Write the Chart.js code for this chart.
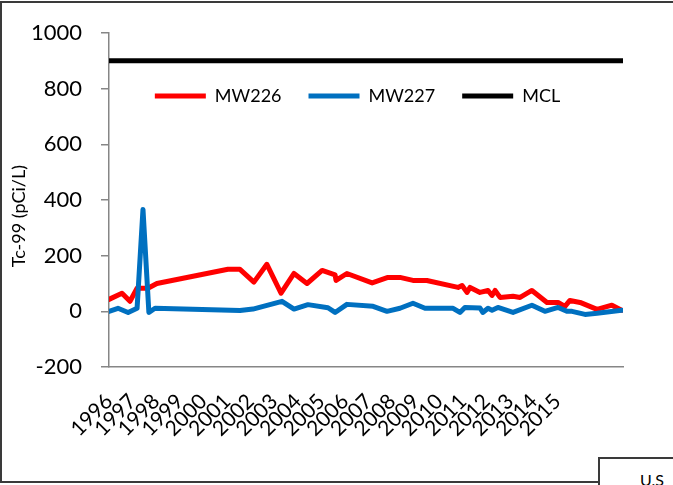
<!DOCTYPE html>
<html>
<head>
<meta charset="utf-8">
<script src="https://cdn.jsdelivr.net/npm/chart.js@4/dist/chart.umd.min.js"></script>
<style>
html,body{margin:0;padding:0;background:#fff;}
#wrap{position:relative;width:673px;height:485px;overflow:hidden;background:#fff;}
#c{position:absolute;left:0;top:0;}
#frame{position:absolute;left:0;top:1px;width:720px;height:478px;border:2px solid #3a3a3a;pointer-events:none;}
#box{position:absolute;left:598px;top:457px;width:120px;height:60px;border:2px solid #3a3a3a;background:#fff;
	font-family:Lato,sans-serif;font-size:16px;color:#000;}
#box span{position:absolute;left:40px;top:11px;}
</style>
</head>
<body>
<div id="wrap">
<canvas id="c" width="673" height="485"></canvas>
<div id="frame"></div>
<div id="box"><span>U.S</span></div>
</div>
<script>
// x positions are in axis units (tick labels 1996..2015 at unit steps), y in pCi/L
var years=['1996','1997','1998','1999','2000','2001','2002','2003','2004','2005','2006','2007','2008','2009','2010','2011','2012','2013','2014','2015'];
var mw226_x=[1996.00,1996.55,1996.89,1997.19,1997.65,1998.03,2001.04,2001.55,2002.14,2002.69,2003.29,2003.84,2004.39,2005.03,2005.58,2005.62,2006.08,2007.15,2007.82,2008.33,2008.88,2009.47,2010.79,2010.96,2011.17,2011.30,2011.72,2012.06,2012.23,2012.36,2012.57,2013.12,2013.42,2013.92,2014.56,2015.03,2015.32,2015.53,2015.96,2016.68,2017.31,2017.72];
var mw226_y=[43,65,36,83,83,100,151,151,105,169,65,136,100,147,131,111,136,102,122,122,111,111,86,93,68,86,68,75,57,75,50,54,50,75,32,32,18,39,32,7,22,4];
var mw227_x=[1996.00,1996.38,1996.81,1997.19,1997.44,1997.69,1997.95,2001.55,2002.10,2003.33,2003.84,2004.43,2005.28,2005.58,2006.08,2007.19,2007.78,2008.33,2008.88,2009.39,2010.58,2010.87,2011.08,2011.72,2011.84,2012.06,2012.23,2012.48,2013.12,2013.92,2014.47,2015.03,2015.42,2015.62,2016.17,2016.68,2017.72];
var mw227_y=[0,11,-4,11,366,-4,11,3,8,36,8,24,13,-4,25,18,0,11,29,11,11,-4,14,12,-4,11,4,14,-4,22,0,14,0,0,-11,-7,4];
var mcl_x=[1996.00,2017.78];
var mcl_y=[900,900];
var y_ticks=[-200,0,200,400,600,800,1000];

var pts=function(xs,ys){var o=[];for(let i=0;i<xs.length;i++){o.push({x:xs[i],y:ys[i]});}return o;};
var line=function(label,xs,ys,col,ord){return {label:label,data:pts(xs,ys),borderColor:col,backgroundColor:col,order:ord,
	borderWidth:5,pointRadius:0,tension:0,borderCapStyle:'round',borderJoinStyle:'round'};};

// legend sits inside the plot in the reference: move the laid-out legend box down/right
var legend_shift={id:'legend_shift',afterLayout:function(ch){var l=ch.legend;if(!l){return}
	l.top+=60;l.bottom=l.top+80;l.height=80;l.left+=44;l.right+=44;}};

Chart.defaults.font.family='Lato, sans-serif';
Chart.defaults.color='#000';
new Chart(document.getElementById('c'),{
	type:'line',
	data:{datasets:[line('MW226',mw226_x,mw226_y,'#ff0000',2),line('MW227',mw227_x,mw227_y,'#0070c0',1),line('MCL',mcl_x,mcl_y,'#000000',0)]},
	plugins:[legend_shift],
	options:{
		responsive:false,animation:false,
		layout:{padding:{left:4,top:0,right:50,bottom:0}},
		plugins:{
			tooltip:{enabled:false},
			legend:{position:'top',align:'center',maxHeight:33,
				labels:{usePointStyle:true,pointStyle:'line',pointStyleWidth:51,padding:27,font:{size:18},color:'#000',
					sort:function(a,b){return a.datasetIndex-b.datasetIndex;}}}
		},
		scales:{
			x:{type:'linear',min:1996,max:2017.78,
				afterFit:function(s){s.height=118;},
				grid:{display:true,drawOnChartArea:false,drawTicks:false},
				border:{color:'#868686',width:1.5},
				ticks:{stepSize:1,autoSkip:false,minRotation:45,maxRotation:45,padding:22,font:{size:21},color:'#000',
					callback:function(v){var i=Math.round(v)-1996;return (Math.abs(v-Math.round(v))<1e-6&&years[i])?years[i]:'';}}
			},
			y:{min:-200,max:1000,
				afterFit:function(s){s.width=105;},
				afterBuildTicks:function(s){s.ticks=y_ticks.map(function(v){return {value:v};});},
				grid:{drawOnChartArea:false,tickLength:8,color:'#868686',lineWidth:1.5},
				border:{color:'#868686',width:1.5},
				ticks:{padding:19,font:{size:22},color:'#000',callback:function(v){return String(v);}},
				title:{display:true,text:'Tc-99 (pCi/L)       ',font:{size:18},color:'#000'}
			}
		}
	}
});
</script>
</body>
</html>
